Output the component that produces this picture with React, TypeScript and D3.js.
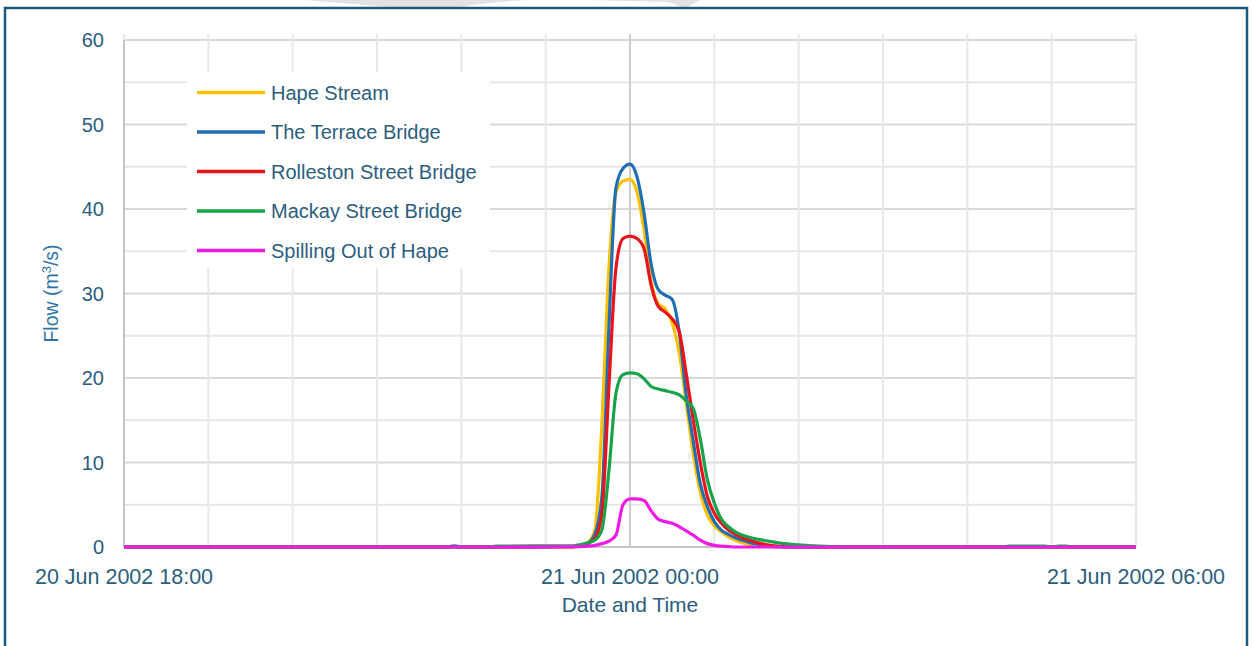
import React from 'react';
import * as d3 from 'd3';

// minutes from 21 Jun 2002 00:00
const timeOffsets = [
  -360, -130, -125, -120, -100, -95,
  -40, -35, -30, -25, -20, -15, -10, -5, 0, 5, 10, 15, 20, 25, 30, 35, 40, 45, 50,
  55, 60, 65, 70, 75, 80, 85, 90, 95, 100, 105, 110, 115, 120, 125, 130, 135, 140,
  145, 150, 155,
  265, 270, 295, 300, 305, 310, 315, 360,
];

const hapeStream = [
  0, 0, 0, 0, 0, 0,
  0.05, 0.1, 0.5, 2, 14.5, 33, 42, 43.3, 43.5, 42, 37.5, 31.5, 28.8, 28.2, 26.5, 23, 17, 11, 6.5,
  3.8, 2.5, 1.8, 1.2, 0.8, 0.5, 0.3, 0.2, 0.1, 0.05, 0, 0, 0, 0, 0, 0, 0, 0,
  0, 0, 0,
  0, 0, 0, 0, 0, 0, 0, 0,
];

const terraceBridge = [
  0, 0, 0.15, 0, 0, 0,
  0.05, 0.1, 0.4, 1.5, 6, 26, 42.5, 44.8, 45.3, 43.8, 39.5, 33.5, 30.5, 29.8, 29.3, 25.5, 18, 12.5, 7.5,
  4.8, 3, 2, 1.5, 1.1, 0.8, 0.55, 0.35, 0.2, 0.1, 0.05, 0, 0, 0, 0, 0, 0, 0,
  0, 0, 0,
  0, 0, 0, 0, 0, 0, 0, 0,
];

const rollestonBridge = [
  0, 0, 0, 0, 0, 0,
  0.05, 0.1, 0.4, 1.0, 4, 19, 33, 36.5, 36.8, 36.5, 35.3, 31, 28.5, 27.8, 27, 25.5, 20.5, 15, 10,
  6, 4, 2.8, 2.0, 1.5, 1.1, 0.8, 0.55, 0.35, 0.2, 0.1, 0.05, 0, 0, 0, 0, 0, 0,
  0, 0, 0,
  0, 0, 0, 0, 0, 0, 0, 0,
];

const mackayBridge = [
  0, 0, 0, 0, 0, 0.1,
  0.15, 0.3, 0.5, 0.8, 2, 9, 18.2, 20.4, 20.6, 20.5, 19.9, 19, 18.7, 18.5, 18.3, 18, 17.3, 16.4, 12.8,
  8, 5.2, 3.3, 2.4, 1.8, 1.4, 1.15, 0.95, 0.8, 0.65, 0.5, 0.4, 0.3, 0.25, 0.2, 0.15, 0.1, 0.08,
  0.05, 0.03, 0,
  0, 0.1, 0.1, 0, 0.1, 0.1, 0, 0,
];

const spillingOut = [
  0, 0, 0, 0, 0, 0,
  0.05, 0.05, 0.1, 0.2, 0.4, 0.7, 1.4, 5, 5.7, 5.7, 5.5, 4.3, 3.3, 3.0, 2.8, 2.4, 1.9, 1.4, 0.8,
  0.4, 0.2, 0.1, 0.05, 0, 0, 0, 0, 0, 0, 0, 0, 0, 0, 0, 0, 0, 0,
  0, 0, 0,
  0, 0, 0, 0, 0, 0, 0, 0,
];

const seriesNames = [
  'Hape Stream',
  'The Terrace Bridge',
  'Rolleston Street Bridge',
  'Mackay Street Bridge',
  'Spilling Out of Hape',
];
const seriesValues = [hapeStream, terraceBridge, rollestonBridge, mackayBridge, spillingOut];
const seriesColors = ['#FFC000', '#1F6FB4', '#E8141B', '#17A34A', '#EE1BE6'];

const W = 1254;
const H = 646;
const margin = { left: 124, right: 118, top: 40, bottom: 99 };
const textColor = '#2b5e7e';
const font = '"Liberation Sans", Arial, sans-serif';

const baseTime = new Date(2002, 5, 21, 0, 0);
const toDate = (m: number) => new Date(baseTime.getTime() + m * 60000);

export default function App() {
  const x = d3
    .scaleTime()
    .domain([toDate(-360), toDate(360)])
    .range([margin.left, W - margin.right]);
  const y = d3
    .scaleLinear()
    .domain([0, 60])
    .range([H - margin.bottom, margin.top]);

  const hourTicks = x.ticks(d3.timeHour.every(1) as d3.TimeInterval);
  const labelTicks = x.ticks(d3.timeHour.every(6) as d3.TimeInterval);
  const fmt = d3.timeFormat('%d %b %Y %H:%M');
  const yGrid = d3.range(0, 61, 5);
  const yLabels = y.ticks(6);

  const line = d3
    .line<number>()
    .x((_, i) => x(toDate(timeOffsets[i])))
    .y((d) => y(d))
    .curve(d3.curveMonotoneX);

  const x0 = margin.left;
  const x1 = W - margin.right;
  const y0 = H - margin.bottom;
  const y1 = margin.top;
  const midnight = toDate(0).getTime();

  const legend = { x: 187, y: 72, w: 303, h: 196, row: 39.5 };

  return (
    <svg
      width={W}
      height={H}
      style={{ position: 'absolute', left: 0, top: 0, background: '#fff' }}
      fontFamily={font}
    >
      <rect x={0} y={0} width={W} height={H} fill="#fff" />
      {/* faint watermark above the frame */}
      <path d="M305,0 L700,0 L686,8 L668,2 L590,0 L530,0 Q488,2 452,8 L400,8 Z" fill="#e2e2e2" />
      <rect x={5} y={8} width={1242} height={700} fill="none" stroke="#1b5a7f" strokeWidth={2.5} />

      {/* horizontal gridlines */}
      {yGrid.map((v) => (
        <line
          key={'h' + v}
          x1={x0}
          x2={x1}
          y1={y(v)}
          y2={y(v)}
          stroke={v % 10 === 0 ? '#dadada' : '#e6e6e6'}
          strokeWidth={2}
        />
      ))}
      {/* vertical gridlines */}
      {hourTicks.map((t) => (
        <line
          key={'v' + t.getTime()}
          x1={x(t)}
          x2={x(t)}
          y1={y1 - 6}
          y2={y0}
          stroke={t.getTime() === midnight ? '#cccccc' : '#e8e8e8'}
          strokeWidth={2}
        />
      ))}
      {/* axis lines */}
      <line x1={x0} x2={x0} y1={y1} y2={y0} stroke="#c4c4c4" strokeWidth={2} />
      <line x1={x0} x2={x1} y1={y0} y2={y0} stroke="#c4c4c4" strokeWidth={2} />

      {/* legend box */}
      <rect x={legend.x} y={legend.y} width={legend.w} height={legend.h} fill="#fff" />

      {/* series */}
      {seriesValues.map((vals, i) => (
        <path
          key={seriesNames[i]}
          d={line(vals) || ''}
          fill="none"
          stroke={seriesColors[i]}
          strokeWidth={3.2}
          strokeLinejoin="round"
        />
      ))}

      {/* legend entries */}
      {seriesNames.map((name, i) => {
        const cy = 92.5 + i * legend.row;
        return (
          <g key={'lg' + name}>
            <line x1={197} x2={265} y1={cy} y2={cy} stroke={seriesColors[i]} strokeWidth={3.5} />
            <text x={271} y={cy} dy="0.36em" fontSize={20} fill={textColor}>
              {name}
            </text>
          </g>
        );
      })}

      {/* y tick labels */}
      {yLabels.map((v) => (
        <text
          key={'yl' + v}
          x={104}
          y={y(v)}
          dy="0.36em"
          textAnchor="end"
          fontSize={20}
          fill={textColor}
        >
          {v}
        </text>
      ))}
      {/* x tick labels */}
      {labelTicks.map((t) => (
        <text
          key={'xl' + t.getTime()}
          x={x(t)}
          y={584}
          textAnchor="middle"
          fontSize={21.5}
          fill={textColor}
        >
          {fmt(t)}
        </text>
      ))}

      {/* axis titles */}
      <text x={630} y={612} textAnchor="middle" fontSize={21} fill={textColor}>
        Date and Time
      </text>
      <text
        transform={`translate(58, ${(y0 + y1) / 2}) rotate(-90)`}
        textAnchor="middle"
        fontSize={19.5}
        fill="#2e74a6"
      >
        Flow (m<tspan dy={-7} fontSize={13}>3</tspan>
        <tspan dy={7}>/s)</tspan>
      </text>
    </svg>
  );
}
